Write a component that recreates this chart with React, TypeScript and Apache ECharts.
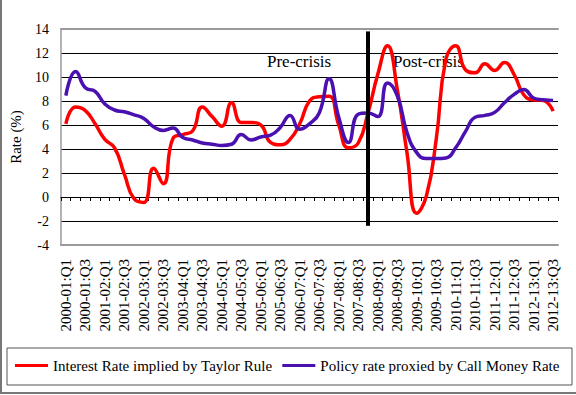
import React, { useEffect, useRef } from "react";
import * as echarts from "echarts";

const fiscalYears = [
  "2000-01", "2001-02", "2002-03", "2003-04", "2004-05", "2005-06", "2006-07",
  "2007-08", "2008-09", "2009-10", "2010-11", "2011-12", "2012-13",
];
const quarters = ["Q1", "Q2", "Q3", "Q4"];
const categories = fiscalYears
  .flatMap((fy) => quarters.map((q) => `${fy}:${q}`))
  .slice(0, 51);

const taylorRate = [
  6.1, 7.5, 7.2, 6.1, 4.8, 4.1, 1.9, -0.15, -0.45, 2.4,
  1.1, 4.9, 5.2, 5.5, 7.5, 6.7, 5.9, 7.85, 6.2, 6.2,
  6.0, 4.55, 4.35, 4.8, 6.1, 8.0, 8.35, 8.4, 6.0, 4.1,
  4.5, 7.0, 10.2, 12.6, 9.0, 3.7, -1.35, 0.1, 4.8, 11.5,
  12.6, 10.6, 10.35, 11.1, 10.55, 11.2, 10.2, 8.5, 8.1, 8.05,
  7.15,
];

const callMoneyRate = [
  8.45, 10.45, 9.1, 8.8, 7.75, 7.25, 7.1, 6.85, 6.55, 5.85,
  5.55, 5.75, 4.95, 4.75, 4.5, 4.4, 4.3, 4.4, 5.2, 4.75,
  5.0, 5.15, 5.8, 6.8, 5.65, 6.1, 7.0, 9.85, 6.65, 4.55,
  6.9, 7.0, 6.7, 9.5, 8.45, 5.4, 3.7, 3.2, 3.2, 3.25,
  4.1, 5.45, 6.65, 6.8, 7.05, 7.85, 8.55, 8.95, 8.25, 8.1,
  8.05,
];

const seriesNames = [
  "Interest Rate implied by Taylor Rule",
  "Policy rate proxied by Call Money Rate",
];
const crisisIndex = 31;
const crisisLineRange = [13.8, -2.4];
const yTicks = { min: -4, max: 14, interval: 2 };

const SERIF = "Liberation Serif";

export default function App() {
  const ref = useRef<HTMLDivElement>(null);

  useEffect(() => {
    if (!ref.current) return;
    const chart = echarts.init(ref.current, undefined, { renderer: "svg" });
    const splitColors = [
      "#9a9a9a", "#000", "#000", "#000", "#000",
      "#000", "#000", "#000", "#000", "#9a9a9a",
    ];
    chart.setOption({
      animation: false,
      backgroundColor: "#fff",
      textStyle: { fontFamily: SERIF },
      grid: { left: 61, right: 18, top: 29, bottom: 150, containLabel: false },
      legend: {
        data: seriesNames,
        left: 15,
        top: 358,
        padding: 0,
        itemGap: 10,
        itemWidth: 33,
        itemHeight: 3,
        icon: "rect",
        textStyle: { fontFamily: SERIF, fontSize: 15, color: "#000" },
      },
      xAxis: [
        {
          type: "category",
          data: categories,
          boundaryGap: true,
          position: "bottom",
          axisLine: { onZero: false, lineStyle: { color: "#9a9a9a", width: 2 } },
          axisTick: { show: false },
          axisLabel: {
            interval: 1,
            rotate: 90,
            fontFamily: SERIF,
            fontSize: 15,
            color: "#000",
            margin: 14,
          },
          splitLine: { show: false },
        },
        {
          type: "category",
          data: categories,
          boundaryGap: true,
          position: "bottom",
          axisLine: { onZero: true, lineStyle: { color: "#000", width: 1 } },
          axisTick: { show: true, interval: 0, length: 4, lineStyle: { color: "#000" } },
          axisLabel: { show: false },
          splitLine: { show: false },
        },
        {
          type: "category",
          data: categories,
          boundaryGap: true,
          position: "top",
          axisLine: { onZero: false, lineStyle: { color: "#9a9a9a", width: 2 } },
          axisTick: { show: false },
          axisLabel: { show: false },
          splitLine: { show: false },
        },
      ],
      yAxis: {
        type: "value",
        min: yTicks.min,
        max: yTicks.max,
        interval: yTicks.interval,
        name: "Rate (%)",
        nameLocation: "middle",
        nameGap: 38,
        nameRotate: 90,
        nameTextStyle: { fontFamily: SERIF, fontSize: 15, color: "#000" },
        axisLine: { show: true, lineStyle: { color: "#9a9a9a", width: 1.5 } },
        axisTick: { show: false },
        axisLabel: { fontFamily: SERIF, fontSize: 14, color: "#000", margin: 12 },
        splitLine: { show: true, lineStyle: { color: splitColors, width: 1 } },
      },
      series: [
        {
          name: seriesNames[0],
          type: "line",
          data: taylorRate,
          smooth: 0.5,
          symbol: "none",
          lineStyle: { color: "#ff0000", width: 3.5 },
          itemStyle: { color: "#ff0000" },
          z: 3,
          markLine: {
            silent: true,
            symbol: "none",
            label: { show: false },
            lineStyle: { color: "#000", width: 4, type: "solid" },
            data: [
              [
                { coord: [categories[crisisIndex], crisisLineRange[0]] },
                { coord: [categories[crisisIndex], crisisLineRange[1]] },
              ],
            ],
          },
        },
        {
          name: seriesNames[1],
          type: "line",
          data: callMoneyRate,
          smooth: 0.5,
          symbol: "none",
          lineStyle: { color: "#4a10b0", width: 3.5 },
          itemStyle: { color: "#4a10b0" },
          z: 4,
        },
      ],
      graphic: [
        {
          type: "text",
          left: 267,
          top: 53,
          style: { text: "Pre-crisis", font: `17px ${SERIF}`, fill: "#000" },
        },
        {
          type: "text",
          left: 393,
          top: 53,
          style: { text: "Post-crisis", font: `17px ${SERIF}`, fill: "#000" },
        },
        {
          type: "rect",
          shape: { x: 7, y: 348, width: 565, height: 37 },
          style: { fill: "none", stroke: "#555", lineWidth: 1 },
        },
        {
          type: "line",
          shape: { x1: 1, y1: 0, x2: 1, y2: 393 },
          style: { stroke: "#777", lineWidth: 2 },
        },
        {
          type: "line",
          shape: { x1: 0, y1: 393, x2: 576, y2: 393 },
          style: { stroke: "#777", lineWidth: 2 },
        },
      ],
    });
    return () => chart.dispose();
  }, []);

  return (
    <div
      ref={ref}
      style={{ position: "fixed", left: 0, top: 0, width: 576, height: 395 }}
    />
  );
}
